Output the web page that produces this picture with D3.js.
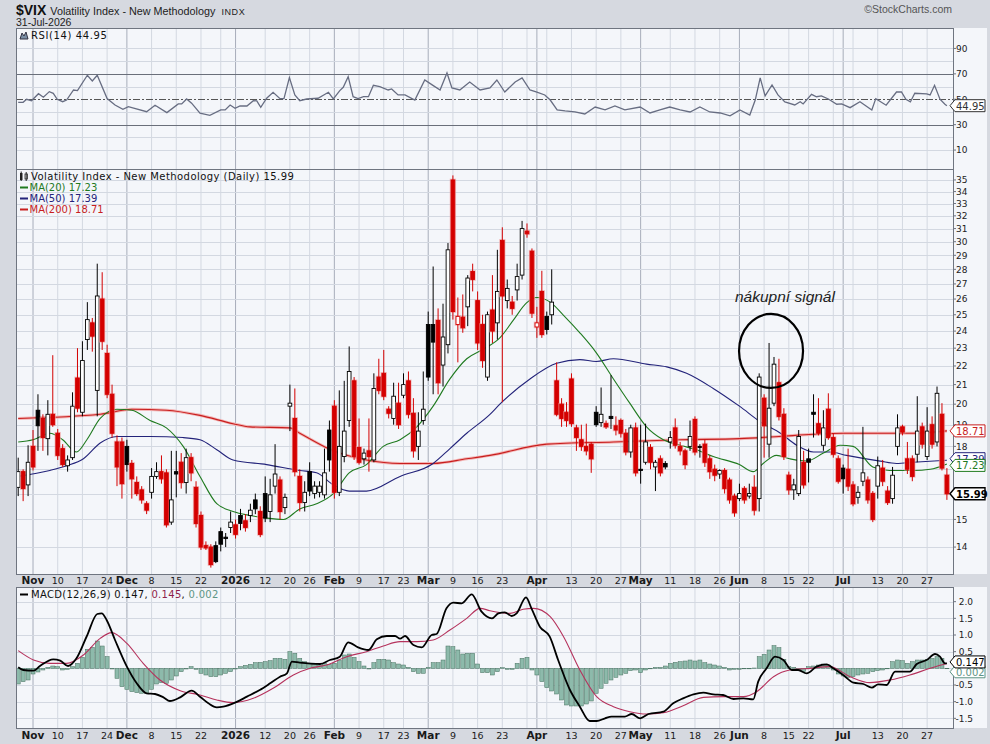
<!DOCTYPE html>
<html lang="cs">
<head>
<meta charset="UTF-8">
<title>$VIX Volatility Index - New Methodology</title>
<script src="https://d3js.org/d3.v7.min.js"></script>
<style>
  body { margin: 0; background: #d6d9e0; }
  svg { display: block; font-family: "DejaVu Sans", Verdana, sans-serif; }
</style>
</head>
<body>
<svg id="chart" width="990" height="744"></svg>
<script>
// daily candles, Oct 29 2025 .. Jul 31 2026: [open, high, low, close]
const candles = [
  [16.25,17.5,15.9,16.9],[16.9,17.0,15.7,16.2],[16.35,18.05,15.9,17.3],[18.0,18.75,16.95,17.1],[19.7,20.5,17.8,18.95],
  [19.3,19.5,17.8,18.4],[18.35,20.2,17.6,19.5],[19.5,22.6,18.9,19.0],[18.6,18.8,17.4,17.6],[17.9,18.1,17.1,17.2],
  [17.15,17.6,16.9,17.4],[17.5,20.6,17.4,19.9],[21.35,23.0,19.6,19.8],[19.6,23.4,19.4,22.3],[23.5,25.8,22.9,24.7],
  [24.5,24.8,22.8,23.7],[20.7,28.4,19.4,26.2],[26.0,27.8,22.9,23.4],[22.7,23.2,20.3,20.5],[20.5,21.0,18.4,18.6],
  [18.2,18.5,16.3,17.1],[18.2,18.4,15.8,16.4],[18.0,18.3,16.9,17.2],[17.25,17.4,15.8,16.6],[16.45,16.7,15.9,16.0],
  [16.15,16.3,15.6,15.75],[15.6,15.7,15.2,15.35],[16.05,17.05,15.8,16.7],[16.7,17.3,16.6,16.9],[16.9,17.6,16.4,16.6],
  [16.85,17.0,14.7,14.8],[14.9,17.8,14.8,15.75],[16.9,17.8,15.85,16.8],[17.3,17.7,16.2,16.45],[16.45,17.9,16.0,17.5],
  [17.5,17.7,16.5,16.85],[16.25,16.5,14.7,14.85],[15.15,15.3,13.9,14.0],[14.05,14.2,13.9,13.97],[14.0,14.1,13.3,13.4],
  [14.05,14.2,13.45,13.5],[14.55,14.7,13.85,14.1],[14.35,14.5,14.0,14.3],[14.7,15.3,14.5,14.9],[14.8,15.0,14.3,14.45],
  [15.15,15.4,14.6,14.85],[14.95,15.2,14.55,14.7],[15.15,15.6,14.9,15.35],[15.75,16.0,15.2,15.4],[15.3,15.5,14.35,14.45],
  [16.0,16.7,14.9,15.05],[15.3,16.6,14.9,15.95],[16.3,18.1,16.0,16.8],[16.55,16.7,15.0,15.3],[15.45,16.0,15.2,15.85],
  [19.9,21.0,18.7,20.05],[19.3,20.8,16.7,16.9],[16.7,17.0,15.3,15.65],[15.65,16.5,15.3,16.05],[16.9,17.3,15.9,16.1],
  [16.0,16.5,15.8,16.3],[16.05,16.5,15.85,16.3],[15.95,17.9,15.8,16.85],[18.75,19.2,16.9,17.4],[19.9,20.2,15.8,16.05],
  [16.05,20.7,15.9,18.0],[17.55,21.2,17.3,18.7],[19.2,23.1,18.9,21.7],[21.2,21.4,17.4,17.55],[17.95,19.3,17.2,17.3],
  [17.45,17.9,17.2,17.7],[17.8,19.3,16.9,17.55],[17.4,21.6,17.3,20.8],[21.4,22.4,20.5,20.7],[21.6,22.9,20.2,20.4],
  [19.75,19.9,19.3,19.55],[19.3,21.1,19.0,20.4],[20.05,21.1,18.8,19.0],[20.45,21.6,20.3,21.0],[21.2,21.7,19.3,19.5],
  [19.55,20.3,17.5,17.8],[18.0,19.6,17.4,18.7],[19.2,21.7,19.0,19.75],[24.4,25.2,21.2,21.4],[24.4,28.2,20.5,23.35],
  [24.65,25.4,20.5,21.1],[22.05,25.7,20.9,23.65],[23.2,29.9,22.7,29.4],[35.0,35.4,24.7,25.2],[24.4,26.1,22.2,24.9],
  [24.85,26.3,23.9,24.2],[25.5,27.6,24.3,27.4],[27.85,28.4,26.5,27.3],[25.9,26.5,22.9,23.3],[24.4,25.0,21.9,22.3],
  [21.4,25.2,21.2,25.0],[25.3,27.6,23.3,24.0],[24.5,29.4,23.5,26.5],[30.1,31.1,20.1,26.2],[25.9,27.3,25.4,26.7],
  [25.8,26.2,25.0,25.4],[26.6,28.4,25.9,27.5],[27.6,31.6,27.3,31.0],[30.8,31.4,30.3,30.6],[29.3,29.5,24.8,25.1],
  [24.25,25.5,23.6,24.5],[26.5,27.9,23.6,23.8],[24.9,25.2,23.8,24.1],[25.0,28.0,24.4,25.8],[21.2,22.2,19.4,19.5],
  [20.0,20.3,18.9,19.3],[19.6,20.1,18.9,19.2],[21.3,21.6,18.9,19.05],[18.85,19.0,17.8,18.4],[18.3,19.0,17.8,18.0],
  [18.0,19.05,17.6,17.8],[18.1,18.2,16.85,17.45],[19.6,19.9,18.9,19.0],[19.1,20.85,18.9,19.5],[19.05,19.2,18.8,18.9],
  [19.4,21.5,18.8,19.3],[18.95,19.4,18.5,18.75],[19.2,19.3,18.4,18.6],[18.6,18.8,17.6,17.75],[17.75,19.0,17.5,18.85],
  [18.85,19.1,16.7,16.85],[17.0,19.0,16.4,16.95],[17.3,19.05,17.2,18.2],[17.95,18.1,17.0,17.3],[17.1,17.4,16.1,17.3],
  [17.45,17.6,16.7,16.85],[17.25,17.35,17.0,17.1],[18.2,18.7,17.9,18.4],[18.85,19.3,17.9,18.05],[18.0,18.2,17.6,17.8],
  [17.8,17.9,17.0,17.2],[18.0,19.2,17.8,18.45],[19.25,19.4,17.6,17.75],[18.0,18.1,17.5,17.95],[18.1,18.3,17.1,17.3],
  [17.45,17.6,16.6,16.9],[17.0,17.2,16.5,16.75],[16.8,17.0,16.6,16.95],[16.95,17.05,16.0,16.2],[16.55,16.65,15.6,15.75],
  [15.9,16.0,15.1,15.25],[15.8,16.4,15.7,16.0],[16.2,16.3,15.6,15.75],[15.9,16.4,15.8,16.0],[16.25,16.75,15.15,15.35],
  [15.8,21.6,15.3,21.4],[20.3,20.5,17.5,18.95],[18.1,23.3,17.5,19.8],[20.05,22.5,19.9,22.1],[21.1,22.4,19.2,19.4],
  [19.5,19.8,17.4,17.55],[16.75,16.9,15.95,16.15],[16.15,16.6,15.75,16.35],[16.0,18.75,15.9,18.45],[17.3,17.8,16.2,16.35],
  [17.45,17.9,16.45,17.3],[19.6,20.5,18.4,19.5],[19.05,20.3,18.5,18.6],[18.05,19.7,17.8,18.85],[19.75,20.55,18.3,18.4],
  [18.4,18.6,17.5,17.65],[17.45,17.6,16.4,16.5],[17.05,17.2,16.0,16.6],[17.0,17.9,16.1,16.3],[16.35,16.5,15.5,15.6],
  [15.85,16.3,15.6,16.05],[16.5,18.9,16.3,16.85],[16.55,16.7,15.6,15.75],[16.0,16.1,14.9,15.0],[16.3,17.55,15.8,17.15],
  [17.05,17.4,16.3,16.5],[16.1,16.3,15.55,15.65],[15.8,17.1,15.6,16.75],[18.0,19.5,17.6,18.85],[18.9,19.0,18.5,18.65],
  [17.45,18.2,16.8,17.0],[17.45,17.6,16.5,16.7],[17.65,20.4,17.3,18.7],[18.9,19.1,17.9,18.1],[17.55,19.85,17.4,18.7],
  [19.0,19.4,17.9,18.1],[18.2,20.9,18.0,20.55],[19.5,20.05,16.95,17.05],[16.75,17.05,15.75,15.99]
];

// market holidays inside the range
const holidays = ["2025-11-27","2025-12-25","2026-01-01","2026-01-19","2026-02-16","2026-04-03","2026-05-25","2026-06-19","2026-07-03"];

// x axis labels: [date, text, month?]
const xLabels = [
  ["2025-11-03","Nov",1],["2025-11-10","10",0],["2025-11-17","17",0],["2025-11-24","24",0],
  ["2025-12-01","Dec",1],["2025-12-08","8",0],["2025-12-15","15",0],["2025-12-22","22",0],
  ["2026-01-02","2026",1],["2026-01-12","12",0],["2026-01-20","20",0],["2026-01-26","26",0],
  ["2026-02-02","Feb",1],["2026-02-09","9",0],["2026-02-17","17",0],["2026-02-23","23",0],
  ["2026-03-02","Mar",1],["2026-03-09","9",0],["2026-03-16","16",0],["2026-03-23","23",0],
  ["2026-04-01","Apr",1],["2026-04-13","13",0],["2026-04-20","20",0],["2026-04-27","27",0],
  ["2026-05-01","May",1],["2026-05-11","11",0],["2026-05-18","18",0],["2026-05-26","26",0],
  ["2026-06-01","Jun",1],["2026-06-08","8",0],["2026-06-15","15",0],["2026-06-22","22",0],
  ["2026-07-01","Jul",1],["2026-07-13","13",0],["2026-07-20","20",0],["2026-07-27","27",0]
];

// moving averages: [day index, value]
const ma20 = [[0,18.2],[3,18.3],[6.4,18.6],[9,18.3],[11.8,17.75],[13.9,18.3],[16.6,19.3],[20,19.75],[23,19.7],
  [26.7,19.2],[30,18.85],[33.4,18.0],[36.8,16.7],[40.2,15.6],[43.5,15.3],[46.9,15.15],[50.3,15.05],[53.7,15.0],
  [57,15.4],[60.4,15.6],[63.8,16.0],[67,16.85],[70.5,17.2],[73.9,18.0],[77.3,18.3],[80.7,18.9],[84,19.9],
  [87.4,21.3],[90.8,22.4],[94.2,22.95],[97.5,23.6],[100.2,24.65],[102.9,25.75],[105,26.1],[107.7,25.8],
  [110.3,25.0],[113.7,23.9],[117,22.75],[120.5,21.3],[123.8,20.05],[127.2,18.9],[130.6,18.3],[134,18.05],
  [137.3,17.85],[140.7,17.55],[146,17.2],[148.8,16.9],[150.8,17.25],[153.5,17.6],[156.2,17.45],[159.6,17.35],
  [163,17.7],[166.4,18.05],[169,18.0],[173,17.1],[176.4,16.95],[181.2,16.95],[184.6,17.0],[188,17.23]];
const ma50 = [[0,16.7],[6.4,16.95],[9.8,17.15],[13.2,17.45],[16.6,18.15],[20,18.45],[26.7,18.45],[33.4,18.4],
  [36.8,18.3],[40.2,17.85],[43.5,17.4],[50.3,17.2],[57,16.95],[60.4,16.85],[63.8,16.35],[67,16.1],[70.5,16.1],
  [77.3,16.7],[84,17.25],[87.4,17.9],[90.8,18.6],[95.5,19.5],[97.5,20.0],[103.6,21.3],[109,22.15],[113.7,22.35],
  [117,22.25],[120.5,22.4],[127.2,22.1],[131.3,21.95],[135.3,21.6],[140.7,20.8],[146,19.9],[150.8,19.05],
  [154,18.65],[157.6,18.05],[161,17.75],[164.3,17.75],[167.7,17.6],[174.5,17.35],[177.8,17.25],[181.2,17.3],[188,17.39]];
const ma200 = [[0,19.3],[16.6,19.5],[23,19.75],[30,19.7],[36.8,19.45],[43.5,19.05],[46.9,18.9],[55,18.85],
  [57,18.6],[63.8,17.8],[70.5,17.4],[77.3,17.25],[84,17.25],[90.8,17.45],[95.5,17.6],[107,18.1],[120.5,18.2],
  [134,18.3],[146,18.35],[154,18.45],[161,18.55],[167,18.6],[181,18.6],[188,18.71]];

// RSI(14): [day index, value]
const rsi14 = [[0,47.6],[1,47.6],[1.7,50],[2.7,48.9],[4.1,54.4],[5.1,51.6],[6.3,56],[7.1,54.7],[7.9,50],[9,48.1],
  [9.8,49.4],[11.2,57.3],[12,56.8],[14,68.9],[15,64.4],[16,68.9],[18,50.5],[19.6,45.5],[21.2,42.1],[22.3,44.2],
  [26,40.2],[27.7,45.3],[30.1,39.5],[32.4,46.3],[33.1,46.3],[34.1,50.2],[35.1,46.9],[36.8,39],[38.8,37.4],[41,41.6],
  [41.9,41.6],[42.9,45.5],[43.9,42.9],[44.9,44.7],[46.3,44.7],[47.6,48.9],[48.3,48.7],[49.1,43.7],[50.3,50.8],
  [51.6,55.5],[53,50.5],[53.8,50.5],[54.9,67],[56,53.4],[57,48.9],[58.4,50.2],[60.7,50.8],[62.8,55.5],[63.8,50.2],
  [65.1,56.8],[65.8,59.4],[66.8,67.8],[67.8,52],[68.8,50.5],[69.9,52],[70.9,52],[71.9,61],[73.2,59.9],[74.9,57.3],
  [75.6,58.1],[76.9,53.4],[78.3,53.4],[80.3,49.4],[82.3,65.2],[83.8,61.3],[85.4,57.3],[86.8,70.7],[87.8,58.9],
  [89.4,57.3],[91.4,63.6],[93.5,57.3],[95.5,58.9],[96.9,65.2],[98.5,55.7],[100.6,63.6],[102,66.8],[103.6,57.3],
  [105,55.7],[106.6,53.4],[107.7,49.4],[109.1,41.6],[110.7,40.8],[112.7,40],[114.7,38.4],[116.8,43.9],[118.8,41.6],
  [120.8,44.7],[122.8,41.6],[125.9,43.9],[127.9,39.2],[129.9,41.6],[131.9,43.9],[134,41.6],[136,40],[138,43.9],
  [140,40],[142.1,39.2],[144.1,36.9],[146.1,41.6],[148.1,37.6],[149.2,49.4],[150.2,66.8],[151.2,52.6],[152.6,61.3],
  [153.8,53.4],[155.2,47.9],[157.2,45.5],[158.3,48.1],[158.9,46.3],[160.6,53.9],[161.6,52],[162.6,52.6],[164,50.2],
  [165.7,46.1],[166.7,46.3],[168.4,43.4],[170.4,48.1],[172.8,41.6],[173.6,50.5],[175.7,45.3],[177.8,55.7],
  [178.8,55.7],[179.7,50],[180.6,47.9],[181.5,54.7],[183.9,54.2],[184.6,53.4],[185.5,61],[186.6,50],[187.6,46.1],[188,44.95]];

// MACD(12,26,9) line and signal: [day index, value]
const macdLine = [[0,0.03],[1,-0.05],[3.1,-0.07],[4.4,0.07],[7.1,0.27],[8.5,0.23],[10.1,0.07],[11.8,0.3],[13.9,0.97],
  [16,1.63],[16.9,1.65],[17.9,1.45],[19.6,0.85],[22,0.05],[24,-0.45],[26,-0.75],[27.7,-0.77],[29.4,-0.87],[30.7,-0.98],
  [32.8,-0.87],[35.1,-0.67],[36.8,-0.85],[38.5,-1.05],[40.2,-1.17],[41.5,-1.15],[43.9,-1.03],[46.3,-0.85],[48.9,-0.65],
  [51,-0.45],[53,-0.25],[54.4,-0.15],[55.4,0.2],[57,0.17],[61.1,0.13],[63.1,0.25],[65.1,0.35],[66.8,0.78],[68.8,0.63],
  [70.9,0.55],[72.6,0.87],[74.6,0.97],[76.3,0.97],[77.3,0.89],[78.3,0.97],[80,0.7],[81.7,0.63],[83.7,1.0],[84.7,1.03],
  [86.7,1.8],[88.1,1.97],[89.8,1.95],[91.8,2.22],[93.8,1.7],[95.9,1.5],[97.2,1.65],[98.5,1.68],[99.9,1.57],
  [100.9,1.65],[102.8,2.13],[103.9,1.8],[105.6,1.25],[107.6,0.95],[109.3,0.25],[111.7,-0.65],[113.7,-1.15],
  [115.7,-1.58],[117.1,-1.58],[118.8,-1.5],[120.1,-1.45],[122.8,-1.45],[124.2,-1.37],[125.9,-1.5],[127.6,-1.37],
  [130.6,-1.3],[132.6,-1.05],[134.6,-0.9],[136.7,-0.78],[138.7,-0.73],[140.7,-0.78],[142.7,-0.8],[144.8,-0.92],
  [146.8,-0.9],[148.8,-0.93],[149.8,-0.4],[151.5,0.0],[153.2,0.35],[154.9,0.25],[156.6,-0.05],[157.9,-0.05],
  [159.6,-0.15],[161.6,0.05],[163.7,0.12],[165,0.0],[167,-0.2],[169.1,-0.43],[171.1,-0.47],[172.8,-0.58],
  [174.1,-0.48],[175.8,-0.5],[177.5,-0.1],[179.2,-0.1],[180.5,-0.1],[181.9,0.13],[183.9,0.25],[185.6,0.43],
  [186.6,0.35],[187.6,0.15],[188,0.147]];
const signalLine = [[0,0.53],[3.1,0.25],[6.4,0.15],[9.8,0.15],[13.2,0.4],[16.6,0.9],[18.9,1.07],[22,0.75],
  [25.3,0.15],[28.7,-0.35],[32.8,-0.67],[36.8,-0.8],[40.2,-0.95],[43.5,-1.03],[47.6,-0.9],[51.6,-0.6],[55.7,-0.2],
  [59.1,0.0],[62.4,0.1],[66.5,0.35],[70.5,0.5],[73.9,0.67],[77.3,0.8],[80.7,0.8],[84,0.85],[87.4,1.15],[90.8,1.5],
  [93.5,1.8],[95.5,1.73],[99.6,1.65],[102.2,1.77],[104.3,1.8],[107.7,1.55],[110.4,0.95],[113.7,-0.05],[117.1,-0.85],
  [120.5,-1.15],[123.8,-1.3],[127.2,-1.37],[130.6,-1.33],[134.6,-1.12],[138.7,-0.87],[142.7,-0.85],[146.8,-0.85],
  [149.5,-0.7],[152.9,-0.25],[156.2,-0.05],[160.3,0.0],[164.3,0.05],[168.4,-0.25],[172.4,-0.43],[176.5,-0.35],
  [180.5,-0.2],[184.6,0.0],[187.6,0.13],[188,0.145]];
// MACD histogram, one bar per day
const histogram = [
  -0.47,-0.40,-0.35,-0.17,-0.11,-0.05,0.03,0.07,0.05,-0.05,
  -0.03,0.05,0.15,0.33,0.57,0.63,0.82,0.67,0.35,-0.02,
  -0.30,-0.55,-0.63,-0.70,-0.73,-0.75,-0.75,-0.63,-0.47,-0.43,
  -0.45,-0.35,-0.23,-0.10,-0.02,0.05,-0.03,-0.15,-0.20,-0.25,
  -0.25,-0.20,-0.15,-0.10,-0.02,0.05,0.09,0.12,0.17,0.18,
  0.20,0.23,0.30,0.30,0.27,0.50,0.45,0.30,0.20,0.15,
  0.13,0.10,0.15,0.12,0.15,0.25,0.40,0.43,0.33,0.20,
  0.07,-0.02,0.17,0.27,0.27,0.25,0.17,0.13,0.10,0.03,
  -0.10,-0.15,-0.15,0.03,0.17,0.17,0.25,0.67,0.65,0.55,
  0.43,0.45,0.45,0.13,-0.13,-0.13,-0.20,-0.10,0.02,-0.03,
  -0.03,0.15,0.30,0.33,-0.05,-0.20,-0.40,-0.58,-0.68,-0.77,
  -0.95,-1.10,-1.13,-1.13,-1.13,-1.07,-0.98,-0.75,-0.60,-0.45,
  -0.35,-0.27,-0.20,-0.15,-0.07,-0.05,-0.13,-0.05,-0.01,0.03,
  0.03,0.07,0.15,0.18,0.20,0.22,0.25,0.22,0.25,0.17,
  0.13,0.10,0.07,0.03,-0.05,-0.03,-0.03,-0.01,-0.01,0.01,
  0.35,0.42,0.55,0.68,0.62,0.27,0.05,0.03,-0.05,-0.10,
  0.05,0.07,0.10,0.13,0.10,-0.05,-0.17,-0.23,-0.27,-0.25,
  -0.20,-0.17,-0.15,-0.10,-0.07,-0.05,-0.01,0.20,0.25,0.23,
  0.15,0.20,0.25,0.25,0.27,0.30,0.35,0.30,0.002
];

const priceTicks = [14,15,16,17,18,19,20,21,22,23,24,25,26,27,28,29,30,31,32,33,34,35];
const rsiGrid = [10,20,30,40,50,60,70,80,90];
const rsiTicks = [10,30,50,70,90];
const macdTicks = [-1.5,-1.0,-0.5,0.0,0.5,1.0,1.5,2.0];

const annotation = { text: "nákupní signál", textAt: [145.1, 25.8], circleAt: [152.4, 22.84] };

// ---------- layout ----------
const svg = d3.select("#chart");
const plotL = 16, plotR = 953, axisR = 987;
const rsiP = { top: 28, bottom: 169 };
const mainP = { top: 169, bottom: 574 };
const macdP = { top: 587, bottom: 728 };

const BG = "#d6d9e0", PANEL = "#f4f6fa", GRID = "#d3d8e1", MONTH = "#a7adba", BORDER = "#6f7580";
const RED = "#d40000";

// trading calendar
const days = [];
for (let d = new Date(Date.UTC(2025, 9, 29)); d <= new Date(Date.UTC(2026, 6, 31)); d.setUTCDate(d.getUTCDate() + 1)) {
  const wd = d.getUTCDay();
  const s = d.toISOString().slice(0, 10);
  if (wd > 0 && wd < 6 && !holidays.includes(s)) days.push(s);
}

const x = d3.scaleLinear().domain([0, candles.length - 1]).range([18.2, 946.9]);
const yPrice = d3.scaleLog().domain([13.09, 35.97]).range([mainP.bottom, mainP.top]);
const yRsi = d3.scaleLinear().domain([-4.9, 106.1]).range([rsiP.bottom, rsiP.top]);
const yMacd = d3.scaleLinear().domain([-1.79, 2.44]).range([macdP.bottom, macdP.top]);

// vertical grid: first day of each month (dark) and of each week (light)
const monthIdx = [], weekIdx = [];
let lastMonth = -10;
days.forEach((d, i) => {
  if (i === 0) return;
  const prev = days[i - 1];
  if (d.slice(5, 7) !== prev.slice(5, 7)) { monthIdx.push(i); lastMonth = i; }
  else if (new Date(d).getUTCDay() < new Date(prev).getUTCDay() && i - lastMonth > 1) weekIdx.push(i);
});

svg.append("rect").attr("width", 990).attr("height", 744).attr("fill", BG);

// header
const sym = svg.append("text").attr("x", 16).attr("y", 15).attr("font-family", "Liberation Sans, Arial")
  .attr("font-weight", "bold").attr("font-size", 14).attr("fill", "#111").text("$VIX");
const symEnd = 16 + sym.node().getComputedTextLength();
const ttl = svg.append("text").attr("x", symEnd + 4).attr("y", 15).attr("font-family", "Liberation Sans, Arial")
  .attr("font-size", 10.8).attr("fill", "#222").text("Volatility Index - New Methodology");
const ttlEnd = symEnd + 4 + ttl.node().getComputedTextLength();
svg.append("text").attr("x", ttlEnd + 6).attr("y", 15).attr("font-family", "Liberation Sans, Arial")
  .attr("font-size", 9).attr("fill", "#222").attr("letter-spacing", 0.6).text("INDX");
svg.append("text").attr("x", 16).attr("y", 26).attr("font-family", "Liberation Sans, Arial")
  .attr("font-size", 10.5).attr("fill", "#222").text("31-Jul-2026");
svg.append("text").attr("x", 952).attr("y", 13).attr("text-anchor", "end").attr("font-family", "Liberation Sans, Arial")
  .attr("font-size", 10.5).attr("fill", "#555").text("©StockCharts.com");

function panel(p, name) {
  const g = svg.append("g");
  g.append("rect").attr("x", plotL).attr("y", p.top).attr("width", axisR - plotL).attr("height", p.bottom - p.top)
    .attr("fill", PANEL);
  svg.append("clipPath").attr("id", "clip-" + name).append("rect")
    .attr("x", plotL).attr("y", p.top).attr("width", plotR - plotL).attr("height", p.bottom - p.top);
  const grid = g.append("g");
  weekIdx.forEach(i => grid.append("line").attr("x1", x(i)).attr("x2", x(i))
    .attr("y1", p.top).attr("y2", p.bottom).attr("stroke", GRID));
  monthIdx.forEach(i => grid.append("line").attr("x1", x(i)).attr("x2", x(i))
    .attr("y1", p.top).attr("y2", p.bottom).attr("stroke", MONTH));
  const body = g.append("g").attr("clip-path", `url(#clip-${name})`);
  return { g, grid, body };
}

function border(g, p) {
  g.append("rect").attr("x", plotL + 0.5).attr("y", p.top + 0.5).attr("width", plotR - plotL)
    .attr("height", p.bottom - p.top).attr("fill", "none").attr("stroke", BORDER);
}

// axis label; skipped when a value box sits on top of it (as in the original)
function rightLabel(g, y, text, anchorEnd, covered) {
  g.append("line").attr("x1", plotR).attr("x2", plotR + 3).attr("y1", y).attr("y2", y).attr("stroke", BORDER);
  if (covered.some(c => Math.abs(c - y) < 6)) return;
  g.append("text").attr("x", anchorEnd ? 973 : 956).attr("y", y + 3.3)
    .attr("text-anchor", anchorEnd ? "end" : "start").attr("font-size", 9).attr("fill", "#222").text(text);
}

function valueBox(g, y, text, color, bold) {
  const x0 = 950, w = 35, h = 12;
  g.append("path").attr("d", `M${x0},${y} L${x0 + 5},${y - h / 2} L${x0 + w},${y - h / 2} L${x0 + w},${y + h / 2} L${x0 + 5},${y + h / 2} Z`)
    .attr("fill", "#fff").attr("stroke", color).attr("stroke-width", bold ? 1.4 : 1);
  g.append("text").attr("x", x0 + 6).attr("y", y + 4).attr("font-size", 10).attr("fill", color)
    .attr("font-weight", bold ? "bold" : "normal").text(text);
}

// ---------- RSI panel ----------
const rsiPanel = panel(rsiP, "rsi");
rsiGrid.forEach(v => {
  const y = Math.round(yRsi(v)) + 0.5;
  const line = rsiPanel.grid.append("line").attr("x1", plotL).attr("x2", plotR).attr("y1", y).attr("y2", y);
  if (v === 30 || v === 70) line.attr("stroke", "#6a6f7a");
  else if (v === 50) line.attr("stroke", "#555").attr("stroke-dasharray", "7,2,2,2");
  else line.attr("stroke", GRID);
});
rsiPanel.body.append("path").datum(rsi14)
  .attr("d", d3.line().x(d => x(d[0])).y(d => yRsi(d[1])))
  .attr("fill", "none").attr("stroke", "#676d82").attr("stroke-width", 1.3);
border(rsiPanel.g, rsiP);
rsiTicks.forEach(v => rightLabel(rsiPanel.g, yRsi(v), String(v), false, []));
valueBox(rsiPanel.g, yRsi(44.95), "44.95", "#333", false);
// legend
rsiPanel.g.append("path").attr("d", "M20,39 L22,33 L24,36 L26,32 L28,39 Z").attr("fill", "#7a8fa6").attr("stroke", "#334");
rsiPanel.g.append("text").attr("x", 31).attr("y", 39).attr("font-size", 10).attr("letter-spacing", 0.6)
  .attr("fill", "#111").text("RSI(14) 44.95");

// ---------- price panel ----------
const mainPanel = panel(mainP, "main");
priceTicks.forEach(v => {
  const y = Math.round(yPrice(v)) + 0.5;
  mainPanel.grid.append("line").attr("x1", plotL).attr("x2", plotR).attr("y1", y).attr("y2", y).attr("stroke", GRID);
});

const maLine = d3.line().x(d => x(d[0])).y(d => yPrice(d[1])).curve(d3.curveMonotoneX);
mainPanel.body.append("path").datum(ma200).attr("d", maLine).attr("fill", "none")
  .attr("stroke", "#f2b5b5").attr("stroke-width", 3);
mainPanel.body.append("path").datum(ma200).attr("d", maLine).attr("fill", "none")
  .attr("stroke", "#c81e1e").attr("stroke-width", 1.1);
mainPanel.body.append("path").datum(ma50).attr("d", maLine).attr("fill", "none")
  .attr("stroke", "#23237a").attr("stroke-width", 1.1);
mainPanel.body.append("path").datum(ma20).attr("d", maLine).attr("fill", "none")
  .attr("stroke", "#1f7a1f").attr("stroke-width", 1.1);

const bodyW = 3.7;
candles.forEach(([o, h, l, c], i) => {
  const prevC = i > 0 ? candles[i - 1][3] : o;
  const col = c >= prevC ? "#000" : RED;
  const hollow = c > o;
  const cx = x(i);
  const top = yPrice(Math.max(o, c)), bot = yPrice(Math.min(o, c));
  const bh = Math.max(1, bot - top);
  if (col === RED) {
    mainPanel.body.append("rect").attr("x", cx - bodyW / 2 - 0.5).attr("y", top - 0.5)
      .attr("width", bodyW + 1).attr("height", bh + 1).attr("fill", "none")
      .attr("stroke", "#f0a3a3").attr("stroke-width", 1.6).attr("opacity", 0.7);
  }
  mainPanel.body.append("line").attr("x1", cx).attr("x2", cx).attr("y1", yPrice(h)).attr("y2", yPrice(l))
    .attr("stroke", col).attr("stroke-width", 1);
  mainPanel.body.append("rect").attr("x", cx - bodyW / 2).attr("y", top).attr("width", bodyW).attr("height", bh)
    .attr("fill", hollow ? "#fff" : col).attr("stroke", col).attr("stroke-width", 0.9);
});

// annotation
mainPanel.body.append("ellipse").attr("cx", x(annotation.circleAt[0])).attr("cy", yPrice(annotation.circleAt[1]))
  .attr("rx", 32).attr("ry", 37).attr("fill", "none").attr("stroke", "#000").attr("stroke-width", 2.2);
mainPanel.g.append("text").attr("x", x(annotation.textAt[0])).attr("y", yPrice(annotation.textAt[1]))
  .attr("font-family", "Liberation Sans, Arial").attr("font-style", "italic").attr("font-size", 15.5)
  .attr("fill", "#222").text(annotation.text);

border(mainPanel.g, mainP);
const mainBoxes = [
  [yPrice(18.71), "18.71", "#c81e1e", false],
  [yPrice(17.39) - 1.5, "17.39", "#23237a", false],
  [yPrice(17.23) + 1.5, "17.23", "#1f7a1f", false],
  [yPrice(15.99), "15.99", "#000", true]
];
priceTicks.forEach(v => rightLabel(mainPanel.g, yPrice(v), String(v), false, mainBoxes.map(b => b[0])));
mainBoxes.forEach(b => valueBox(mainPanel.g, ...b));

// legend
const lg = mainPanel.g.append("g");
lg.append("rect").attr("x", 20).attr("y", 173).attr("width", 2.5).attr("height", 7).attr("fill", "#222");
lg.append("line").attr("x1", 21.2).attr("x2", 21.2).attr("y1", 171.5).attr("y2", 181).attr("stroke", "#222");
lg.append("rect").attr("x", 25).attr("y", 174).attr("width", 2.5).attr("height", 5).attr("fill", "#fff").attr("stroke", "#222").attr("stroke-width", 0.8);
lg.append("line").attr("x1", 26.2).attr("x2", 26.2).attr("y1", 172).attr("y2", 181).attr("stroke", "#222");
lg.append("text").attr("x", 31).attr("y", 180).attr("font-size", 10).attr("letter-spacing", 0.45)
  .attr("fill", "#111").text("Volatility Index - New Methodology (Daily) 15.99");
[["MA(20) 17.23", "#1f7a1f"], ["MA(50) 17.39", "#23237a"], ["MA(200) 18.71", "#c81e1e"]].forEach(([t, c], k) => {
  const y = 191 + k * 11;
  lg.append("line").attr("x1", 20).attr("x2", 28).attr("y1", y - 3.5).attr("y2", y - 3.5).attr("stroke", c).attr("stroke-width", 2);
  lg.append("text").attr("x", 29.5).attr("y", y).attr("font-size", 10).attr("fill", c).text(t);
});

// ---------- MACD panel ----------
const macdPanel = panel(macdP, "macd");
macdTicks.forEach(v => {
  const y = Math.round(yMacd(v)) + 0.5;
  macdPanel.grid.append("line").attr("x1", plotL).attr("x2", plotR).attr("y1", y).attr("y2", y).attr("stroke", GRID);
});
histogram.forEach((v, i) => {
  const y0 = yMacd(0), y1 = yMacd(v);
  macdPanel.body.append("rect").attr("x", x(i) - 2).attr("y", Math.min(y0, y1)).attr("width", 4)
    .attr("height", Math.max(0.5, Math.abs(y1 - y0))).attr("fill", "#8dbaab").attr("stroke", "#47705f").attr("stroke-width", 0.5);
});
const mLine = d3.line().x(d => x(d[0])).y(d => yMacd(d[1])).curve(d3.curveMonotoneX);
macdPanel.body.append("path").datum(signalLine).attr("d", mLine).attr("fill", "none")
  .attr("stroke", "#b5325c").attr("stroke-width", 1.1);
macdPanel.body.append("path").datum(macdLine).attr("d", mLine).attr("fill", "none")
  .attr("stroke", "#000").attr("stroke-width", 1.8);
border(macdPanel.g, macdP);
const macdBoxes = [
  [yMacd(0.002) + 3.5, "0.002", "#5e9585", false],
  [yMacd(0.147) - 1.5, "0.147", "#000", false]
];
macdTicks.forEach(v => rightLabel(macdPanel.g, yMacd(v), v.toFixed(1), true, macdBoxes.map(b => b[0])));
macdBoxes.forEach(b => valueBox(macdPanel.g, ...b));
macdPanel.g.append("line").attr("x1", 20).attr("x2", 28).attr("y1", 594.5).attr("y2", 594.5).attr("stroke", "#000").attr("stroke-width", 2);
const ml = macdPanel.g.append("text").attr("x", 31).attr("y", 598).attr("font-size", 10).attr("letter-spacing", 0.3);
ml.append("tspan").attr("fill", "#111").text("MACD(12,26,9) 0.147, ");
ml.append("tspan").attr("fill", "#8e1f4c").text("0.145");
ml.append("tspan").attr("fill", "#111").text(", ");
ml.append("tspan").attr("fill", "#5e9585").text("0.002");

// ---------- date axes ----------
[584, 739].forEach(yb => {
  xLabels.forEach(([d, t, m]) => {
    const i = days.indexOf(d);
    if (i < 0) return;
    svg.append("text").attr("x", x(i)).attr("y", yb).attr("text-anchor", "middle")
      .attr("font-size", m ? 10.5 : 9.5).attr("font-weight", m ? "bold" : "normal")
      .attr("fill", "#1a1a1a").text(t);
  });
});
</script>
</body>
</html>
